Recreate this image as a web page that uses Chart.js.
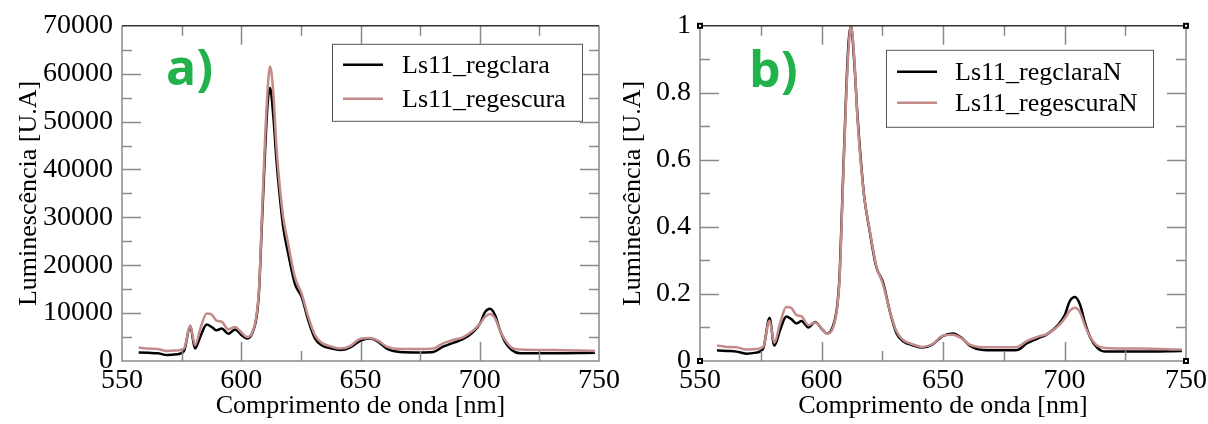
<!DOCTYPE html>
<html>
<head>
<meta charset="utf-8">
<script src="https://cdn.jsdelivr.net/npm/chart.js@4.4.1/dist/chart.umd.min.js"></script>
<style>
  html, body { margin: 0; padding: 0; background: #fff; width: 1208px; height: 424px; overflow: hidden; }
  canvas { position: absolute; top: 0; }
  #chartA { left: 0; }
  #chartB { left: 604px; }
</style>
</head>
<body>
<canvas id="chartA" width="640" height="424"></canvas>
<canvas id="chartB" width="620" height="424"></canvas>
<script>
// --- Data ---
const WAVELENGTHS = [557, 561, 565, 569, 573, 576, 578.6, 580.6, 583, 585.5, 587.6, 589.7, 591.8, 594.6, 597.4,
  600.2, 602.3, 604.4, 606.5, 607.5, 608.6, 610, 611.1, 612.1, 613.4, 614.8, 616.2, 617.6, 619.7, 622.5, 625.3,
  628.1, 630.9, 633.7, 637.9, 641.4, 645.6, 649.8, 654, 657.5, 661, 666.6, 675, 680.5, 684.6, 688.9, 693.1, 697.3,
  700.1, 702.2, 704.3, 706.4, 708.5, 710.6, 713.4, 716.9, 730.8, 748.3];

// panel a) raw luminescence
const CLARA = [1800, 1700, 1600, 1250, 1400, 2100, 7300, 2600, 5300, 7600, 7100, 6400, 6800, 5700, 6600,
  5400, 4700, 5600, 9500, 15000, 28000, 44000, 54000, 57000, 51400, 41700, 34100, 27900, 22400, 16100, 13400,
  8500, 4700, 3300, 2600, 2300, 2800, 4200, 4700, 4000, 2600, 1900, 1800, 1900, 3000, 3800, 4600, 6100,
  7800, 10200, 10900, 9600, 6400, 4000, 2300, 1600, 1600, 1700];
const ESCURA = [2800, 2600, 2500, 2100, 2200, 2600, 7400, 3300, 7000, 9900, 9700, 8400, 8200, 6600, 7100,
  5900, 5000, 5700, 9900, 15500, 29300, 46600, 57000, 61500, 56300, 44500, 36200, 30000, 24400, 17500, 14100,
  9200, 5400, 3800, 3000, 2600, 3100, 4600, 4800, 4200, 3000, 2500, 2500, 2600, 3700, 4400, 5000, 6400,
  7800, 9200, 9800, 8900, 6400, 4400, 2800, 2400, 2300, 2100];

// panel b) normalised luminescence
const CLARA_N = [0.032, 0.030, 0.028, 0.022, 0.025, 0.037, 0.128, 0.046, 0.093, 0.133, 0.125, 0.112, 0.119, 0.100, 0.116,
  0.095, 0.082, 0.098, 0.167, 0.263, 0.491, 0.772, 0.947, 1.0, 0.902, 0.732, 0.598, 0.489, 0.393, 0.282, 0.235,
  0.149, 0.082, 0.058, 0.046, 0.040, 0.049, 0.074, 0.082, 0.070, 0.046, 0.033, 0.032, 0.033, 0.053, 0.067, 0.081, 0.107,
  0.137, 0.179, 0.191, 0.168, 0.112, 0.070, 0.040, 0.028, 0.028, 0.030];
const ESCURA_N = [0.046, 0.042, 0.041, 0.034, 0.036, 0.042, 0.120, 0.054, 0.114, 0.161, 0.158, 0.137, 0.133, 0.107, 0.115,
  0.096, 0.081, 0.093, 0.161, 0.252, 0.476, 0.758, 0.927, 1.0, 0.915, 0.724, 0.589, 0.488, 0.397, 0.285, 0.229,
  0.150, 0.088, 0.062, 0.049, 0.042, 0.050, 0.075, 0.078, 0.068, 0.049, 0.041, 0.041, 0.042, 0.060, 0.072, 0.081, 0.104,
  0.127, 0.150, 0.159, 0.145, 0.104, 0.072, 0.046, 0.039, 0.037, 0.034];

const X_TICKS = [550, 600, 650, 700, 750];
const Y_TICKS_A = [0, 10000, 20000, 30000, 40000, 50000, 60000, 70000];
const Y_TICKS_B = [0, 0.2, 0.4, 0.6, 0.8, 1];
const LABELS_A = ['Ls11_regclara', 'Ls11_regescura'];
const LABELS_B = ['Ls11_regclaraN', 'Ls11_regescuraN'];

// --- Style ---
const LINE_COLORS = ['#000000', '#c48b8b'];
const SERIF = '"Liberation Serif", "DejaVu Serif", serif';
const TICK_GREY = '#8a8a8a';

Chart.defaults.font.family = SERIF;
Chart.defaults.color = '#000';

const toPoints = ys => WAVELENGTHS.map((x, i) => ({ x, y: ys[i] }));

// xmgrace-like frame: inward ticks on all four sides, legend box, panel letter
const spectrumDeco = {
  id: 'spectrumDeco',
  afterDatasetsDraw(chart, args, opts) {
    const { ctx, chartArea: a, scales: { x, y } } = chart;
    ctx.save();
    ctx.lineWidth = 1.5;
    ctx.strokeStyle = TICK_GREY;

    const drawTicks = (scale, horizontal) => {
      const vals = scale.ticks.map(t => t.value);
      const marks = [];
      vals.forEach((v, i) => {
        marks.push([v, 19]);
        if (i < vals.length - 1) marks.push([(v + vals[i + 1]) / 2, 10]);
      });
      marks.forEach(([v, len]) => {
        const p = Math.round(scale.getPixelForValue(v)) + 0.5;
        ctx.beginPath();
        if (horizontal) {
          if (p <= a.left + 1 || p >= a.right - 1) return;
          ctx.moveTo(p, a.bottom); ctx.lineTo(p, a.bottom - len);
          ctx.moveTo(p, a.top); ctx.lineTo(p, a.top + len);
        } else {
          if (p <= a.top + 1 || p >= a.bottom - 1) return;
          ctx.moveTo(a.left, p); ctx.lineTo(a.left + len, p);
          ctx.moveTo(a.right, p); ctx.lineTo(a.right - len, p);
        }
        ctx.stroke();
      });
    };
    drawTicks(x, true);
    drawTicks(y, false);

    // frame
    ctx.beginPath();
    ctx.moveTo(a.left, a.top); ctx.lineTo(a.left, a.bottom); ctx.lineTo(a.right, a.bottom); ctx.lineTo(a.right, a.top);
    ctx.stroke();
    ctx.strokeStyle = '#333';
    ctx.beginPath();
    ctx.moveTo(a.left, a.top); ctx.lineTo(a.right, a.top);
    ctx.stroke();

    // selection handles (panel b only)
    if (opts.handles) {
      const corners = [[a.left, a.top], [a.right, a.top], [a.left, a.bottom], [a.right, a.bottom]];
      ctx.fillStyle = '#000';
      corners.forEach(([hx, hy]) => ctx.fillRect(hx - 3, hy - 3, 6, 6));
      ctx.fillStyle = '#fff';
      corners.forEach(([hx, hy]) => ctx.fillRect(hx - 1, hy - 1, 2, 2));
    }

    // legend box
    const lb = opts.legendBox;
    const bx = a.left + lb.x, by = a.top + lb.y;
    ctx.fillStyle = '#fff';
    ctx.fillRect(bx, by, lb.w, lb.h);
    ctx.strokeStyle = '#555';
    ctx.lineWidth = 1;
    ctx.strokeRect(bx + 0.5, by + 0.5, lb.w, lb.h);
    ctx.font = '26px ' + SERIF;
    ctx.textBaseline = 'middle';
    ctx.textAlign = 'left';
    chart.data.datasets.forEach((ds, i) => {
      const ry = by + lb.rows[i];
      ctx.strokeStyle = ds.borderColor;
      ctx.lineWidth = 2.5;
      ctx.beginPath();
      ctx.moveTo(bx + 11, ry); ctx.lineTo(bx + 51, ry);
      ctx.stroke();
      ctx.fillStyle = '#000';
      ctx.fillText(ds.label, bx + lb.textX, ry + 1);
    });

    // panel letter
    ctx.fillStyle = '#22b24c';
    ctx.font = 'bold 50px "Open Sans", Lato, sans-serif';
    ctx.textBaseline = 'alphabetic';
    ctx.fillText(opts.letter.text, a.left + opts.letter.x, a.top + opts.letter.y);
    ctx.restore();
  }
};

function makeChart(canvasId, cfg) {
  return new Chart(document.getElementById(canvasId), {
    type: 'line',
    data: {
      datasets: cfg.series.map((ys, i) => ({
        label: cfg.labels[i],
        data: toPoints(ys),
        borderColor: LINE_COLORS[i],
        borderWidth: 2.5,
        pointRadius: 0,
        fill: false,
        cubicInterpolationMode: 'monotone',
        order: cfg.series.length - i
      }))
    },
    options: {
      responsive: false,
      animation: false,
      events: [],
      layout: { padding: { top: 24, left: 0, right: cfg.padRight, bottom: 0 } },
      scales: {
        x: {
          type: 'linear', min: 550, max: 750,
          afterBuildTicks: s => { s.ticks = X_TICKS.map(value => ({ value })); },
          afterFit: s => { s.height = 63; },
          grid: { display: false, drawTicks: false }, border: { display: false },
          ticks: { font: { size: 28 }, padding: 3, maxRotation: 0, autoSkip: false, callback: v => String(v) },
          title: { display: true, text: 'Comprimento de onda [nm]', font: { size: 26 }, padding: { top: 0, bottom: 2 } }
        },
        y: {
          type: 'linear', min: 0, max: cfg.yMax,
          afterBuildTicks: s => { s.ticks = cfg.yTicks.map(value => ({ value })); },
          afterFit: s => { s.width = cfg.yWidth; },
          grid: { display: false, drawTicks: false }, border: { display: false },
          ticks: { font: { size: 28 }, padding: 9, autoSkip: false, callback: v => String(v) },
          title: { display: true, text: 'Luminescência [U.A]', font: { size: 26 }, padding: { top: 14, bottom: 0 } }
        }
      },
      plugins: {
        legend: { display: false },
        tooltip: { enabled: false },
        spectrumDeco: { legendBox: cfg.legendBox, letter: cfg.letter, handles: cfg.handles }
      }
    },
    plugins: [spectrumDeco]
  });
}

makeChart('chartA', {
  series: [CLARA, ESCURA], labels: LABELS_A, yTicks: Y_TICKS_A, yMax: 70000,
  yWidth: 122, padRight: 41,
  legendBox: { x: 210, y: 18, w: 250, h: 77, rows: [21, 55], textX: 70 },
  letter: { text: 'a)', x: 44, y: 59 },
  handles: false
});

makeChart('chartB', {
  series: [CLARA_N, ESCURA_N], labels: LABELS_B, yTicks: Y_TICKS_B, yMax: 1,
  yWidth: 96, padRight: 38,
  legendBox: { x: 186, y: 24, w: 267, h: 77, rows: [22, 53], textX: 69 },
  letter: { text: 'b)', x: 49, y: 61 },
  handles: true
});
</script>
</body>
</html>
